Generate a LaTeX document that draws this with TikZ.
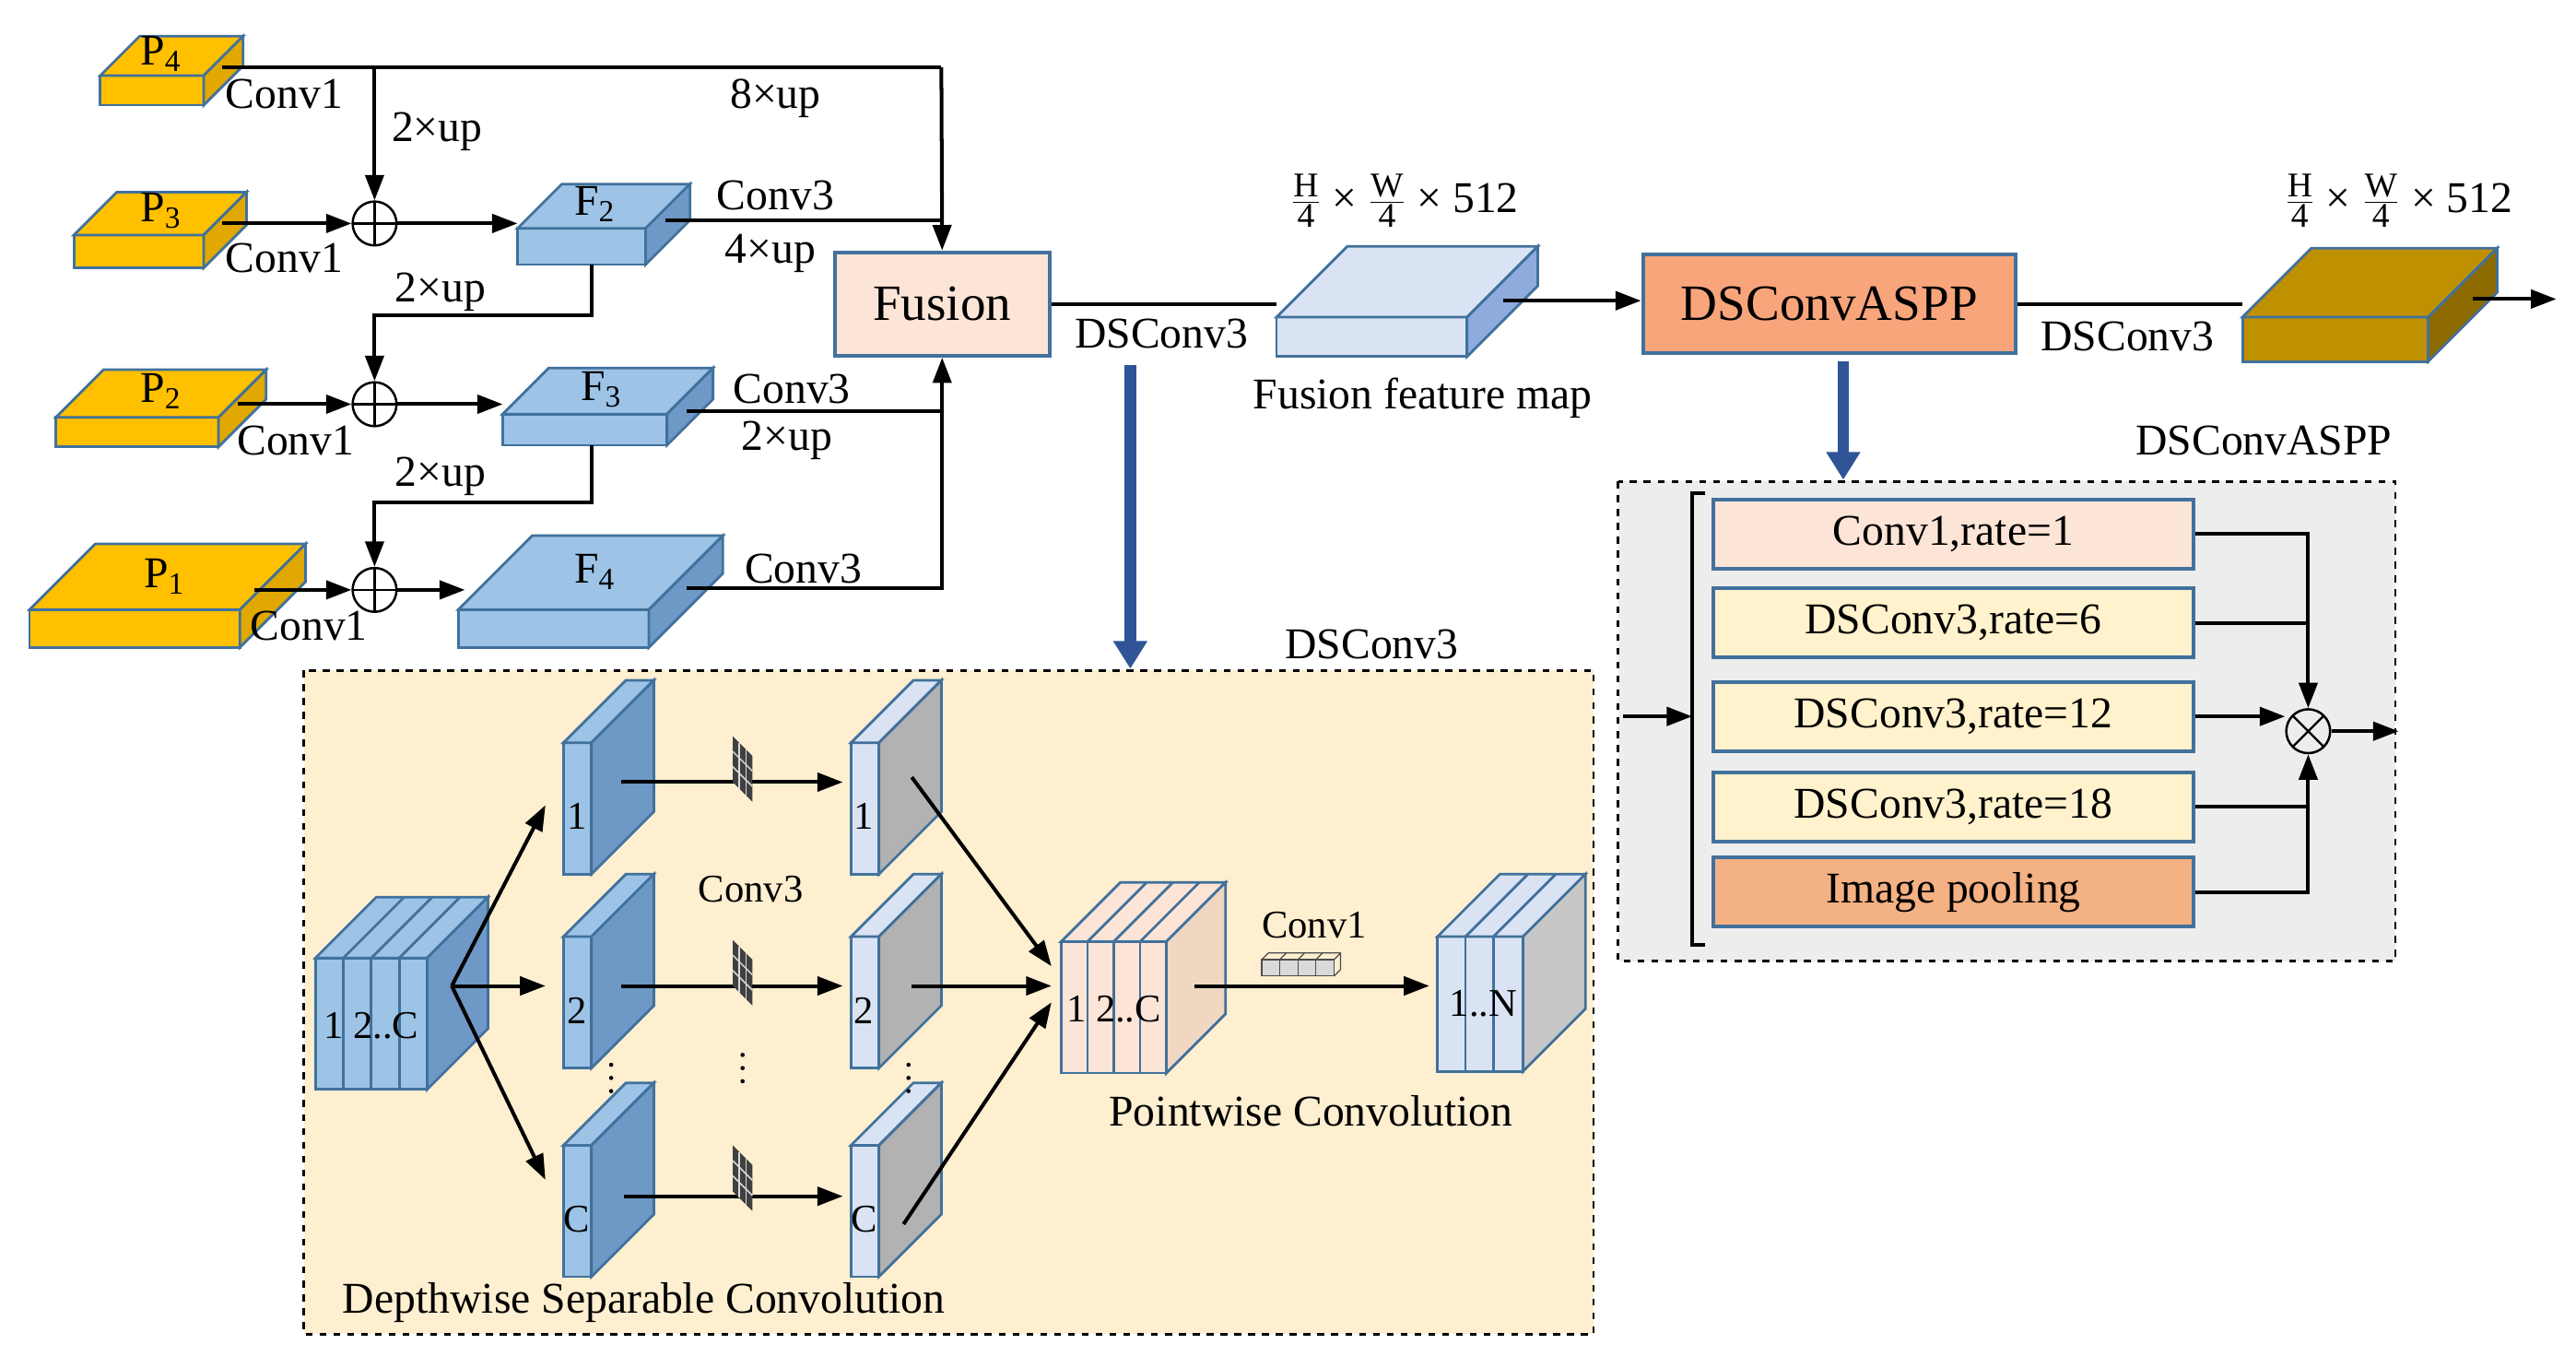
\documentclass[tikz,border=0pt]{standalone}
\usepackage{fontspec}
\setmainfont{Liberation Serif}
\usetikzlibrary{arrows.meta,calc}
\definecolor{edgeb}{HTML}{41719C}
\definecolor{gold}{HTML}{FFC000}
\definecolor{golds}{HTML}{E0A800}
\definecolor{fblue}{HTML}{9DC3E6}
\definecolor{fblues}{HTML}{6E98C5}
\definecolor{fmap}{HTML}{DAE3F3}
\definecolor{fmaps}{HTML}{8FAADC}
\definecolor{dgold}{HTML}{BF9000}
\definecolor{dgolds}{HTML}{8C6A00}
\definecolor{pinkf}{HTML}{FCE4D6}
\definecolor{salmon}{HTML}{F4B183}
\definecolor{dsa}{HTML}{F8A57C}
\definecolor{yelf}{HTML}{FFF2CC}
\definecolor{boxbg}{HTML}{FDEFD0}
\definecolor{graybg}{HTML}{EDEDED}
\definecolor{arrowblue}{HTML}{2F5597}
\newcommand\cuboid[8]{%
 \filldraw[edge,fill=#6] (#1,#2) rectangle ++(#3,#4);
 \filldraw[edge,fill=#7] (#1,#2) -- ++(#5,-#5) -- ++(#3,0) -- ++(-#5,#5) -- cycle;
 \filldraw[edge,fill=#8] ({#1+#3},#2) -- ++(#5,-#5) -- ++(0,#4) -- ++(-#5,#5) -- cycle;}
\newcommand\stripes[6]{% x y w(slice) h d n
 \foreach \k in {1,...,#6}{\draw[edge] ({#1+\k*#3},#2) -- ++(0,#4);
  \draw[edge] ({#1+\k*#3},#2) -- ++(#5,-#5);}}
\newcommand\kgrid[2]{%
 \begin{scope}[shift={(#1,#2)},yslant=-1]
  \fill[black!75] (0,0) rectangle (12,28);
  \foreach \q in {4,8}{\draw[white!70!gray,line width=0.6pt] (\q,0)--(\q,28);}
  \foreach \q in {9.3,18.6}{\draw[white!70!gray,line width=0.6pt] (0,\q)--(12,\q);}
 \end{scope}}
\newcommand\vdts[2]{\foreach \dd in {0,8,16}{\fill (#1,#2+\dd) circle (1.3);}}
\newcommand\dimtxt{$\frac{\mbox{\fontsize{15}{15}\selectfont H}}{\mbox{\fontsize{15}{15}\selectfont 4}}$ × $\frac{\mbox{\fontsize{15}{15}\selectfont W}}{\mbox{\fontsize{15}{15}\selectfont 4}}$ × 512}
\tikzset{
 edge/.style={draw=edgeb,line width=1.1pt},
 ln/.style={draw=black,line width=1.6pt},
 ar/.style={ln,-{Triangle[length=11pt,width=8pt]}},
 lbl/.style={font=\fontsize{19}{19}\selectfont,inner sep=1pt},
 sm/.style={font=\fontsize{17}{17}\selectfont,inner sep=1pt},
 plus/.style={circle,draw=black,line width=1pt,minimum size=19pt,inner sep=0pt,path picture={\draw[black,line width=0.9pt] (path picture bounding box.north)--(path picture bounding box.south) (path picture bounding box.west)--(path picture bounding box.east);}},
 times/.style={circle,draw=black,line width=1pt,minimum size=19pt,inner sep=0pt,path picture={\draw[black,line width=0.9pt] (path picture bounding box.north west)--(path picture bounding box.south east) (path picture bounding box.south west)--(path picture bounding box.north east);}},
 rowbox/.style={draw=edgeb,line width=1.6pt,minimum width=292*0.025cm,minimum height=42*0.025cm,font=\fontsize{19}{19}\selectfont},
 bigar/.style={draw=arrowblue,line width=5pt,-{Triangle[length=12pt,width=14pt]}},
}
\begin{document}
\begin{tikzpicture}[x=0.025cm,y=-0.025cm]
\useasboundingbox (0,0) rectangle (1568,832);
% background boxes
\filldraw[fill=boxbg,draw=black,dashed,line width=1.1pt] (185,408) rectangle (970,812);
\filldraw[fill=graybg,draw=black,dashed,line width=1.1pt] (985,293) rectangle (1458,585);
\node[lbl] (lDS) at (835,392) {DSConv3};
\node[lbl] (lDA) at (1378,268) {DSConvASPP};
% P cuboids
\cuboid{61}{46}{63}{18}{24}{gold}{gold}{golds}
\cuboid{45}{143}{79}{20}{26}{gold}{gold}{golds}
\cuboid{34}{254}{99}{18}{29}{gold}{gold}{golds}
\cuboid{18}{371}{128}{23}{40}{gold}{gold}{golds}
\node[lbl] (P4) at (98,33) {P\textsubscript{4}};
\node[lbl] (P3) at (98,128) {P\textsubscript{3}};
\node[lbl] (P2) at (98,238) {P\textsubscript{2}};
\node[lbl] (P1) at (100,351) {P\textsubscript{1}};
% F cuboids
\cuboid{315}{139}{78}{22}{27}{fblue}{fblue}{fblues}
\cuboid{306}{252}{100}{19}{28}{fblue}{fblue}{fblues}
\cuboid{279}{371}{116}{23}{45}{fblue}{fblue}{fblues}
\node[lbl] (F2) at (362,124) {F\textsubscript{2}};
\node[lbl] (F3) at (366,237) {F\textsubscript{3}};
\node[lbl] (F4) at (362,348) {F\textsubscript{4}};
% coordinates
\coordinate (p4o) at (135,41); \coordinate (p3o) at (135,136);
\coordinate (p2o) at (145,246); \coordinate (p1o) at (155,359);
\node[plus] (s1) at (228,136) {};
\node[plus] (s2) at (228,246) {};
\node[plus] (s3) at (228,359) {};
\coordinate (f2in) at (315,136); \coordinate (f3in) at (306,246); \coordinate (f4in) at (283,359);
\coordinate (f2o) at (405,134); \coordinate (f3o) at (418,250); \coordinate (f4o) at (418,358);
\coordinate (f2b) at (360,161); \coordinate (f3b) at (360,271);
\node[draw=edgeb,fill=pinkf,line width=1.6pt,minimum width=131*0.025cm,minimum height=63*0.025cm,font=\fontsize{22}{22}\selectfont] (fus) at (573.5,185) {Fusion};
% P lines
\draw[ln] (p4o) -- (573,41) coordinate (c8);
\draw[ar] (c8) -- (fus.north);
\draw[ar] (228,41) -- (s1.north);
\draw[ar] (p3o) -- (s1.west); \draw[ar] (s1.east) -- (f2in);
\draw[ar] (p2o) -- (s2.west); \draw[ar] (s2.east) -- (f3in);
\draw[ar] (p1o) -- (s3.west); \draw[ar] (s3.east) -- (f4in);
\draw[ar] (f2b) |- (228,192) -- (s2.north);
\draw[ar] (f3b) |- (228,306) -- (s3.north);
\draw[ln] (f2o) -- (573,134);
\draw[ln] (f3o) -- (573,250);
\draw[ar] (f4o) -| (fus.south);
% labels
\node[lbl] (c1a) at (173,57) {Conv1};
\node[lbl] (c1b) at (173,157) {Conv1};
\node[lbl] (c1c) at (180,268) {Conv1};
\node[lbl] (c1d) at (188,381) {Conv1};
\node[lbl] (u1) at (266,80) {2×up};
\node[lbl] (u2) at (268,178) {2×up};
\node[lbl] (u3) at (268,290) {2×up};
\node[lbl] (u8) at (472,60) {8×up};
\node[lbl] (k3a) at (472,119) {Conv3};
\node[lbl] (u4) at (469,154) {4×up};
\node[lbl] (k3b) at (482,237) {Conv3};
\node[lbl] (u2b) at (479,268) {2×up};
\node[lbl] (k3c) at (489,346) {Conv3};
% feature map
\cuboid{777}{193}{116}{24}{43}{fmap}{fmap}{fmaps}
\coordinate (fmin) at (777,185);
\draw[ln] (fus.east) -- (fmin);
\node[lbl] (lds1) at (707,203) {DSConv3};
\node[lbl] (lfm) at (866,242) {Fusion feature map};
\node[lbl] (dim1) at (855,122) {\dimtxt};
\node[draw=edgeb,fill=dsa,line width=1.6pt,minimum width=227*0.025cm,minimum height=60*0.025cm,font=\fontsize{22}{22}\selectfont] (aspp) at (1113.5,185) {DSConvASPP};
\coordinate (fmo) at (915,183);
\draw[ar] (fmo) -- (aspp.west|-fmo);
\cuboid{1365}{193}{113}{27}{42}{dgold}{dgold}{dgolds}
\draw[ln] (aspp.east) -- (1365,185) coordinate (gin);
\node[lbl] (lds2) at (1295,205) {DSConv3};
\node[lbl] (dim2) at (1460,122) {\dimtxt};
\coordinate (go) at (1505,182); \coordinate (gend) at (1556,182);
\draw[ar] (go) -- (gend);
% blue arrows
\coordinate (b1s) at (688,222); \coordinate (b1e) at (688,407);
\coordinate (b2s) at (1122,220); \coordinate (b2e) at (1122,292);
\draw[bigar] (b1s) -- (b1e);
\draw[bigar] (b2s) -- (b2e);
% ASPP rows
\node[rowbox,fill=pinkf] (r1) at (1189,325) {Conv1,rate=1};
\node[rowbox,fill=yelf] (r2) at (1189,379) {DSConv3,rate=6};
\node[rowbox,fill=yelf] (r3) at (1189,436) {DSConv3,rate=12};
\node[rowbox,fill=yelf] (r4) at (1189,491) {DSConv3,rate=18};
\node[rowbox,fill=salmon] (r5) at (1189,543) {Image pooling};
\draw[ln] (1038,300) -- (1030,300) -- (1030,575) -- (1038,575);
\coordinate (ain) at (988,436);
\draw[ar] (ain) -- (1030,436);
\node[times] (mul) at (1405,445) {};
\draw[ar] (r1.east) -| (mul.north);
\draw[ln] (r2.east) -- (1405,379);
\draw[ar] (r3.east) -- (r3.east-|mul.west);
\draw[ln] (r4.east) -- (1405,491);
\draw[ar] (r5.east) -| (mul.south);
\coordinate (aout) at (1460,445);
\draw[ar] (mul.east) -- (aout);
% DSConv3 detail
\cuboid{192}{583}{68}{80}{37}{fblue}{fblue}{fblues}
\stripes{192}{583}{17}{80}{37}{3}
\node[sm] (in) at (226,624) {1 2..C};
\foreach \yy/\t [count=\i] in {452/1,570/2,697/C}{
 \cuboid{343}{\yy}{17}{80}{38}{fblue}{fblue}{fblues}
 \node[sm] (a\i) at (351,\yy+45) {\t};
 \cuboid{518}{\yy}{17}{80}{38}{fmap}{fmap}{gray!60}
 \node[sm] (b\i) at (526,\yy+45) {\t};
}
\coordinate (ino) at (275,600);
\draw[ar] (ino) -- (332,490);
\draw[ar] (ino) -- (332,600);
\draw[ar] (ino) -- (332,718);
\draw[ar] (378,476) -- (513,476);
\draw[ar] (378,600) -- (513,600);
\draw[ar] (380,728) -- (513,728);
\kgrid{446}{448}
\kgrid{446}{572}
\kgrid{446}{697}
\node[sm] (lk3) at (457,541) {Conv3};
\vdts{372}{648}
\vdts{452}{642}
\vdts{553}{648}
\cuboid{646}{573}{64}{80}{36}{pinkf}{pinkf}{pinkf!60!brown!60}
\stripes{646}{573}{16}{80}{36}{3}
\node[sm] (pw) at (678,614) {1 2..C};
\draw[ar] (555,473) -- (640,588);
\draw[ar] (555,600) -- (640,600);
\draw[ar] (550,745) -- (640,610);
\cuboid{875}{570}{52}{82}{38}{fmap}{fmap}{gray!45}
\stripes{875}{570}{17}{82}{38}{2}
\node[sm] (on) at (903,611) {1..N};
\draw[ar] (727,600) -- (870,600);
\foreach \q in {0,1,2,3}{\filldraw[draw=black!70,fill=gray!30,line width=0.5pt] (768+\q*11,584) rectangle ++(11,10);
 \draw[black!70,line width=0.5pt] (768+\q*11,584) -- ++(4,-4) -- ++(11,0);}
\draw[black!70,line width=0.5pt] (812,584) -- ++(4,-4) -- ++(0,10) -- ++(-4,4);
\node[sm] (lk1) at (800,563) {Conv1};
\node[lbl] (lpw) at (798,676) {Pointwise Convolution};
\node[lbl,anchor=west] (ldw) at (207,793) {Depthwise Separable Convolution};
\end{tikzpicture}
\end{document}
